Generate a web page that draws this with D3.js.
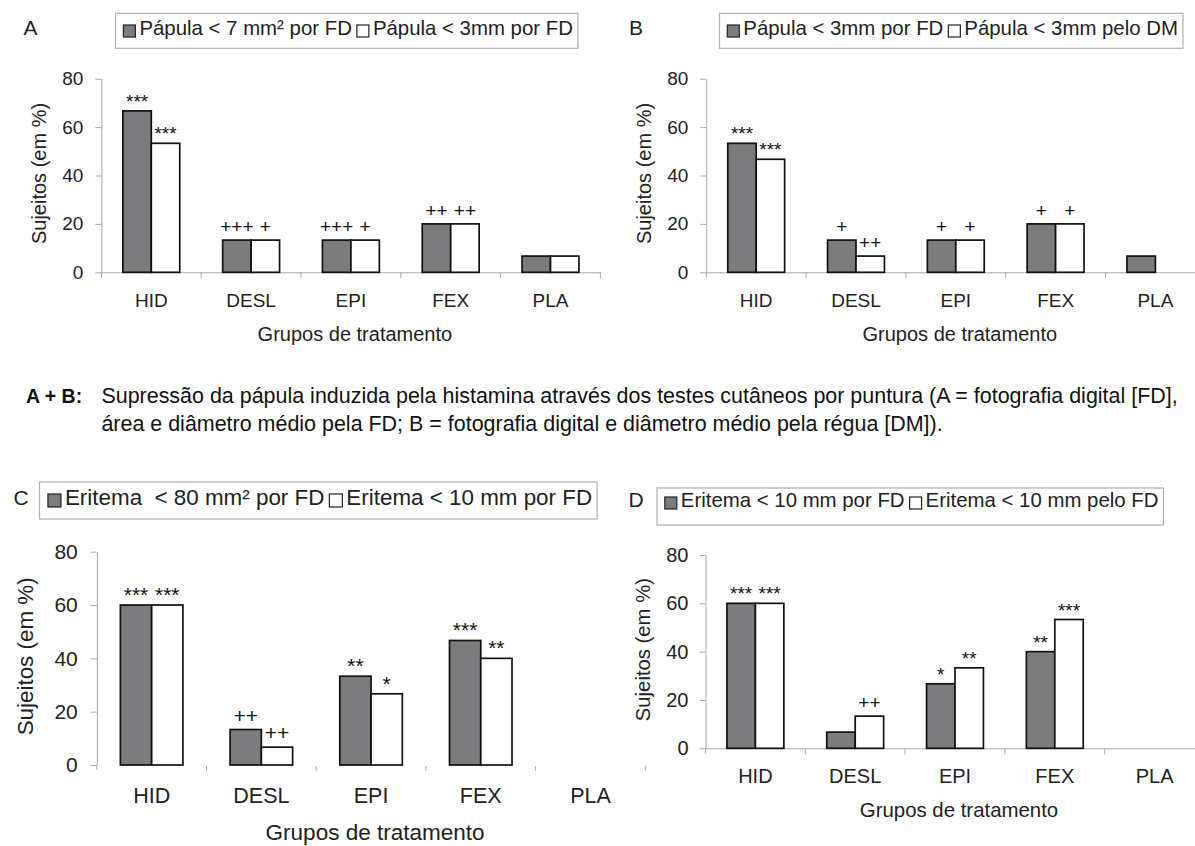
<!DOCTYPE html>
<html>
<head>
<meta charset="utf-8">
<script src="https://cdn.jsdelivr.net/npm/d3@7"></script>
<style>
  body { margin: 0; background: #fff; }
</style>
</head>
<body>
<script>
// shared categories and axis ticks
var categories = ["HID", "DESL", "EPI", "FEX", "PLA"];
var yTicks = [0, 20, 40, 60, 80];

// A: papula, area vs diameter (FD)
var legendA = ["Pápula < 7 mm² por FD", "Pápula < 3mm por FD"];
var areaA = [66.7, 13.3, 13.3, 20, 6.7];
var diamA = [53.3, 13.3, 13.3, 20, 6.7];
var marksA1 = ["***", "+++", "+++", "++", ""];
var marksA2 = ["***", "+", "+", "++", ""];

// B: papula, FD vs DM
var legendB = ["Pápula < 3mm por FD", "Pápula < 3mm pelo DM"];
var fdB = [53.3, 13.3, 13.3, 20, 6.7];
var dmB = [46.7, 6.7, 13.3, 20, 0];
var marksB1 = ["***", "+", "+", "+", ""];
var marksB2 = ["***", "++", "+", "+", ""];

// C: eritema, area vs diameter
var legendC = ["Eritema  < 80 mm² por FD", "Eritema < 10 mm por FD"];
var areaC = [60, 13.3, 33.3, 46.7, 0];
var diamC = [60, 6.7, 26.7, 40, 0];
var marksC1 = ["***", "++", "**", "***", ""];
var marksC2 = ["***", "++", "*", "**", ""];

// D: eritema, por FD vs pelo FD
var legendD = ["Eritema < 10 mm por FD", "Eritema < 10 mm pelo FD"];
var fdD = [60, 6.7, 26.7, 40, 0];
var dmD = [60, 13.3, 33.3, 53.3, 0];
var marksD1 = ["***", "", "*", "**", ""];
var marksD2 = ["***", "++", "**", "***", ""];

var captionLabel = "A + B:";
var captionLines = [
  "Supressão da pápula induzida pela histamina através dos testes cutâneos por puntura (A = fotografia digital [FD],",
  "área e diâmetro médio pela FD; B = fotografia digital e diâmetro médio pela régua [DM])."
];

var font = "'Liberation Sans', Arial, sans-serif";
var textColor = "#222";
var axisColor = "#a8a8a8";
var grayFill = "#7c7c7e";

var svg = d3.select("body")
  .append("svg")
  .attr("width", 1195)
  .attr("height", 846)
  .style("font-family", font);

function drawPanel(p) {
  var g = svg.append("g");

  var x = d3.scaleBand()
    .domain(categories)
    .range([p.x0, p.x1])
    .paddingInner(0.43)
    .paddingOuter(0.215);
  var xSub = d3.scaleBand().domain([0, 1]).range([0, x.bandwidth()]);
  var y = d3.scaleLinear().domain([0, 80]).range([p.y0, p.y80]);

  // y axis
  var yAxis = g.append("g")
    .attr("transform", `translate(${p.x0},0)`)
    .call(d3.axisLeft(y).tickValues(yTicks).tickSize(6).tickSizeOuter(0).tickPadding(p.tickPad));
  yAxis.attr("font-family", font).attr("font-size", p.tickFont);
  yAxis.select(".domain").attr("stroke", axisColor);
  yAxis.selectAll(".tick line").attr("stroke", axisColor);
  yAxis.selectAll(".tick text").attr("fill", textColor);
  g.append("line")
    .attr("x1", p.x0).attr("x2", p.x0)
    .attr("y1", p.y0).attr("y2", p.y0 + 5)
    .attr("stroke", axisColor);

  // x axis (labels only, ticks sit between groups)
  var xAxis = g.append("g")
    .attr("transform", `translate(0,${p.y0})`)
    .call(d3.axisBottom(x).tickSize(0).tickSizeOuter(0));
  xAxis.attr("font-family", font).attr("font-size", p.catFont);
  xAxis.select(".domain").attr("stroke", p.xLine ? axisColor : "none");
  xAxis.selectAll(".tick text")
    .attr("y", p.catY - p.y0)
    .attr("dy", 0)
    .attr("fill", textColor);

  g.selectAll("line.sep")
    .data(d3.range(1, categories.length + 1))
    .enter()
    .append("line")
    .attr("class", "sep")
    .attr("x1", i => p.x0 + i * x.step())
    .attr("x2", i => p.x0 + i * x.step())
    .attr("y1", p.y0 + (p.xLine ? 0 : 1))
    .attr("y2", p.y0 + 6)
    .attr("stroke", axisColor);

  // bars
  var rows = [];
  categories.forEach(function(c, i) {
    rows.push({ c: c, k: 0, v: p.s1[i], m: p.m1[i] });
    rows.push({ c: c, k: 1, v: p.s2[i], m: p.m2[i] });
  });

  g.selectAll("rect.bar")
    .data(rows.filter(d => d.v > 0))
    .enter()
    .append("rect")
    .attr("class", "bar")
    .attr("x", d => x(d.c) + xSub(d.k))
    .attr("y", d => y(d.v))
    .attr("width", xSub.bandwidth())
    .attr("height", d => y(0) - y(d.v))
    .attr("fill", d => d.k === 0 ? grayFill : "#fff")
    .attr("stroke", "#111")
    .attr("stroke-width", 1.7);

  // significance marks
  g.selectAll("text.mark")
    .data(rows.filter(d => d.m !== ""))
    .enter()
    .append("text")
    .attr("class", "mark")
    .attr("x", d => x(d.c) + xSub(d.k) + xSub.bandwidth() / 2)
    .attr("y", d => y(d.v) - (d.m.indexOf("+") >= 0 ? 7 : 3))
    .attr("text-anchor", "middle")
    .attr("font-size", p.annFont)
    .attr("fill", "#111")
    .text(d => d.m);

  // axis titles
  g.append("text")
    .attr("x", (p.x0 + p.x1) / 2 + 4)
    .attr("y", p.titleY)
    .attr("text-anchor", "middle")
    .attr("font-size", p.titleFont)
    .attr("fill", textColor)
    .text("Grupos de tratamento");

  g.append("text")
    .attr("transform", `translate(${p.yTitleX},${(p.y0 + p.y80) / 2 - 2}) rotate(-90)`)
    .attr("text-anchor", "middle")
    .attr("dominant-baseline", "central")
    .attr("font-size", p.yTitleFont)
    .attr("fill", textColor)
    .text("Sujeitos (em %)");

  // panel letter
  g.append("text")
    .attr("x", p.letterX)
    .attr("y", p.legendBase)
    .attr("text-anchor", "middle")
    .attr("font-size", p.letterFont)
    .attr("fill", textColor)
    .text(p.letter);

  // legend
  var lg = g.append("g");
  var box = lg.append("rect")
    .attr("x", p.legendX)
    .attr("y", p.legendTop)
    .attr("height", p.legendBot - p.legendTop)
    .attr("fill", "#fff")
    .attr("stroke", "#b0b0b0")
    .attr("stroke-width", 1.2);

  var sw = p.swatch;
  var cx = p.legendX + 0.65 * sw;
  p.legend.forEach(function(label, k) {
    lg.append("rect")
      .attr("x", cx)
      .attr("y", p.legendBase + 2 - sw)
      .attr("width", sw)
      .attr("height", sw)
      .attr("fill", k === 0 ? grayFill : "#fff")
      .attr("stroke", "#222")
      .attr("stroke-width", 1.2);
    var t = lg.append("text")
      .attr("x", cx + sw + 4)
      .attr("y", p.legendBase)
      .attr("font-size", p.legendFont)
      .attr("fill", textColor)
      .style("white-space", "pre")
      .text(label);
    cx = cx + sw + 4 + t.node().getComputedTextLength() + 5;
  });
  box.attr("width", cx - p.legendX);
}

drawPanel({
  x0: 101.4, x1: 600.4, y80: 78.7, y0: 272.3,
  tickFont: 19, tickPad: 12, catFont: 19, catY: 307,
  titleFont: 20, titleY: 341, yTitleX: 39, yTitleFont: 20,
  letter: "A", letterX: 30.6, letterFont: 21,
  legendX: 115.6, legendTop: 13.3, legendBot: 48.3, legendBase: 35, legendFont: 20.4, swatch: 12,
  annFont: 19, xLine: true,
  legend: legendA, s1: areaA, s2: diamA, m1: marksA1, m2: marksA2
});

drawPanel({
  x0: 706.3, x1: 1205.3, y80: 78.7, y0: 272.3,
  tickFont: 19, tickPad: 12, catFont: 19, catY: 307,
  titleFont: 20, titleY: 341, yTitleX: 643.6, yTitleFont: 20,
  letter: "B", letterX: 636, letterFont: 21,
  legendX: 719.5, legendTop: 13.3, legendBot: 48.3, legendBase: 35, legendFont: 20.4, swatch: 12,
  annFont: 19, xLine: true,
  legend: legendB, s1: fdB, s2: dmB, m1: marksB1, m2: marksB2
});

drawPanel({
  x0: 96.8, x1: 645.3, y80: 551.7, y0: 765,
  tickFont: 21, tickPad: 13, catFont: 21.5, catY: 803,
  titleFont: 22.5, titleY: 840, yTitleX: 25, yTitleFont: 22.4,
  letter: "C", letterX: 21, letterFont: 21,
  legendX: 39.5, legendTop: 482, legendBot: 519, legendBase: 505, legendFont: 22.4, swatch: 13,
  annFont: 21, xLine: false,
  legend: legendC, s1: areaC, s2: diamC, m1: marksC1, m2: marksC2
});

drawPanel({
  x0: 705.5, x1: 1204.5, y80: 555, y0: 748.3,
  tickFont: 20, tickPad: 11, catFont: 20, catY: 783,
  titleFont: 20.4, titleY: 817, yTitleX: 642.7, yTitleFont: 20.3,
  letter: "D", letterX: 636, letterFont: 21,
  legendX: 657, legendTop: 488, legendBot: 525, legendBase: 507, legendFont: 20.4, swatch: 12,
  annFont: 19, xLine: true,
  legend: legendD, s1: fdD, s2: dmD, m1: marksD1, m2: marksD2
});

// caption between the two rows
var cap = svg.append("g").attr("fill", "#111");
cap.append("text")
  .attr("x", 26)
  .attr("y", 403)
  .attr("font-size", 19.5)
  .attr("font-weight", "bold")
  .text(captionLabel);

var line1 = cap.append("text")
  .attr("x", 101.4)
  .attr("y", 403)
  .attr("font-size", 19)
  .text(captionLines[0]);
var capSize = 19 * 1077 / line1.node().getComputedTextLength();
line1.attr("font-size", capSize);

cap.append("text")
  .attr("x", 101.4)
  .attr("y", 431)
  .attr("font-size", capSize)
  .text(captionLines[1]);
</script>
</body>
</html>
